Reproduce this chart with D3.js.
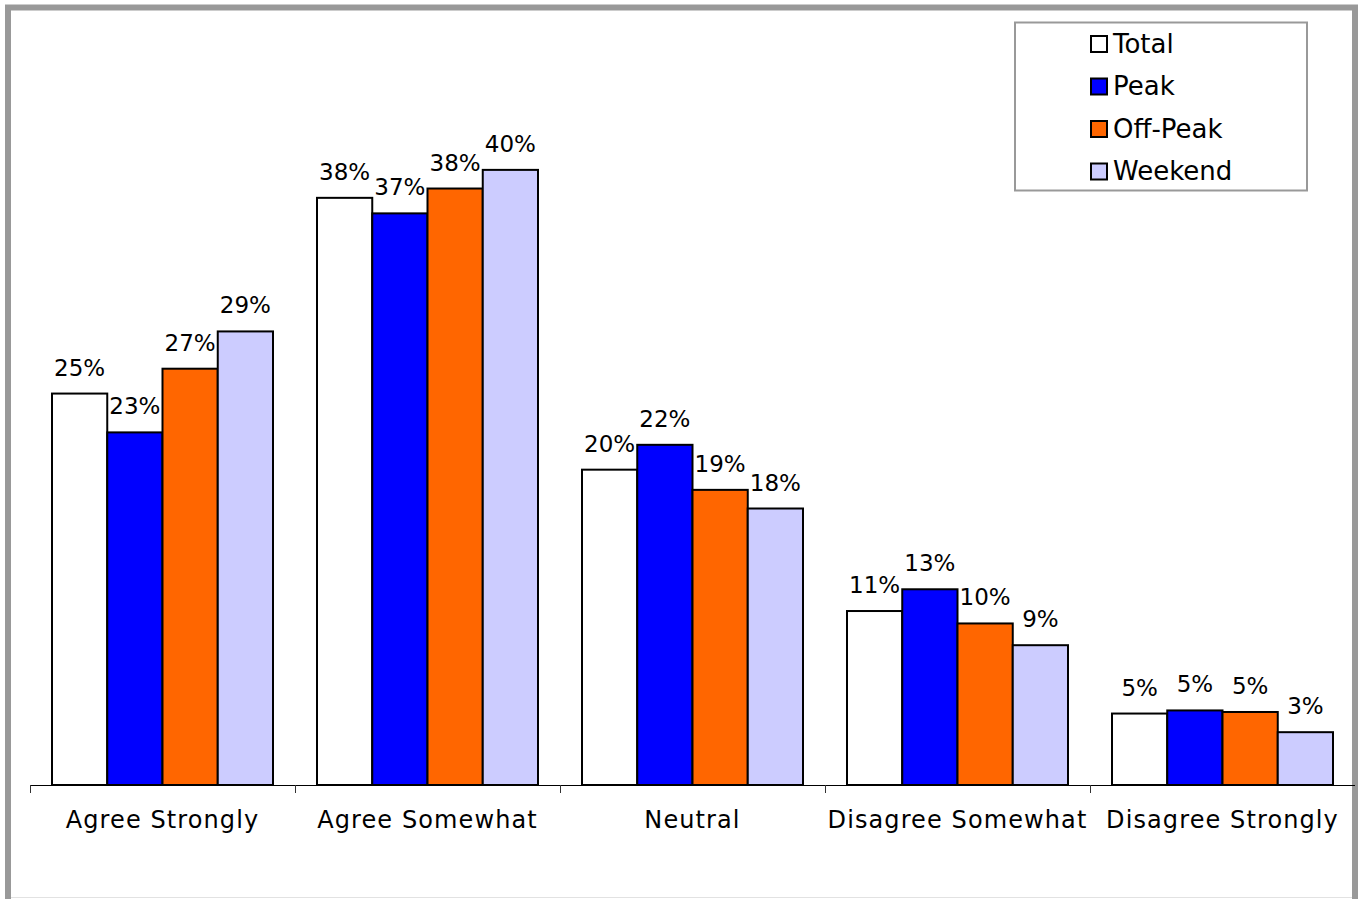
<!DOCTYPE html>
<html>
<head>
<meta charset="utf-8">
<script src="https://cdn.jsdelivr.net/npm/d3@7"></script>
<style>
  html, body { margin: 0; padding: 0; background: #fff; }
  svg { display: block; }
  text { font-family: "DejaVu Sans", Verdana, sans-serif; fill: #000; }
</style>
</head>
<body>
<svg id="chart" width="1359" height="899"></svg>
<script>
// Response categories along the x axis
const categories = ["Agree Strongly", "Agree Somewhat", "Neutral", "Disagree Somewhat", "Disagree Strongly"];

// Respondent groups (legend order)
const seriesNames = ["Total", "Peak", "Off-Peak", "Weekend"];

// Share of respondents per category, one array per group
const totalValues   = [0.252, 0.378, 0.203, 0.112, 0.046];
const peakValues    = [0.227, 0.368, 0.219, 0.126, 0.048];
const offPeakValues = [0.268, 0.384, 0.190, 0.104, 0.047];
const weekendValues = [0.292, 0.396, 0.178, 0.090, 0.034];

const seriesColors = ["#ffffff", "#0000ff", "#ff6600", "#ccccff"];

const seriesValues = [totalValues, peakValues, offPeakValues, weekendValues];
const rows = categories.map((c, i) => ({
  category: c,
  values: seriesNames.map((s, j) => ({ series: s, value: seriesValues[j][i] }))
}));

const svg = d3.select("#chart");

// Outer frame
svg.append("rect")
  .attr("x", 8).attr("y", 7.5)
  .attr("width", 1347).attr("height", 1000)
  .attr("fill", "#fff")
  .attr("stroke", "#999999").attr("stroke-width", 6);
svg.append("line")
  .attr("x1", 11).attr("x2", 1352).attr("y1", 897.5).attr("y2", 897.5)
  .attr("stroke", "#e2e2e2").attr("stroke-width", 1);

// Plot geometry
const plotLeft = 30, plotRight = 1355, baseY = 785, plotTop = 86;

const x0 = d3.scaleBand().domain(categories).range([plotLeft, plotRight]).paddingInner(0).paddingOuter(0);
const groupPad = 22;
const x1 = d3.scaleBand().domain(seriesNames)
  .range([groupPad, x0.bandwidth() - groupPad]).padding(0);
const y = d3.scaleLinear().domain([0, 0.45]).range([baseY, plotTop]);
const color = d3.scaleOrdinal().domain(seriesNames).range(seriesColors);
const pct = d3.format(".0%");

// Bars
const groups = svg.append("g").selectAll("g")
  .data(rows).join("g")
  .attr("transform", d => `translate(${x0(d.category)},0)`);

groups.selectAll("rect")
  .data(d => d.values).join("rect")
  .attr("x", d => x1(d.series))
  .attr("y", d => y(d.value))
  .attr("width", x1.bandwidth())
  .attr("height", d => y(0) - y(d.value))
  .attr("fill", d => color(d.series))
  .attr("stroke", "#000").attr("stroke-width", 2);

// Value labels
groups.selectAll("text.val")
  .data(d => d.values).join("text")
  .attr("class", "val")
  .attr("x", d => x1(d.series) + x1.bandwidth() / 2)
  .attr("y", d => y(d.value) - 18)
  .attr("text-anchor", "middle")
  .style("font-size", "23px")
  .text(d => pct(d.value));

// Category axis
const xAxis = d3.axisBottom(x0).tickSize(0).tickFormat("");
const axisG = svg.append("g").attr("transform", `translate(0,${baseY})`).call(xAxis);
axisG.select(".domain").attr("stroke", "#000").attr("stroke-width", 1).attr("d", `M${plotLeft},0.5H${plotRight}`);

// Tick marks at category boundaries
svg.append("g").selectAll("line")
  .data(categories)
  .join("line")
  .attr("x1", d => x0(d) + 0.5).attr("x2", d => x0(d) + 0.5)
  .attr("y1", baseY).attr("y2", baseY + 8)
  .attr("stroke", "#333").attr("stroke-width", 1);

svg.append("g").selectAll("text")
  .data(categories).join("text")
  .attr("x", d => x0(d) + x0.bandwidth() / 2)
  .attr("y", 828)
  .attr("text-anchor", "middle")
  .style("font-size", "24px")
  .style("letter-spacing", "1.1px")
  .text(d => d);

// Legend
const legend = svg.append("g");
legend.append("rect")
  .attr("x", 1015).attr("y", 22.5)
  .attr("width", 292).attr("height", 168)
  .attr("fill", "#fff")
  .attr("stroke", "#999999").attr("stroke-width", 2);

const rowY = d3.scalePoint().domain(seriesNames).range([43.5, 171]);
const items = legend.selectAll("g.item").data(seriesNames).join("g")
  .attr("class", "item")
  .attr("transform", d => `translate(1091,${rowY(d)})`);
items.append("rect")
  .attr("x", 0).attr("y", -7.5)
  .attr("width", 16).attr("height", 16)
  .attr("fill", d => color(d))
  .attr("stroke", "#000").attr("stroke-width", 2);
items.append("text")
  .attr("x", 22).attr("y", 9)
  .style("font-size", "26px")
  .text(d => d);
</script>
</body>
</html>
